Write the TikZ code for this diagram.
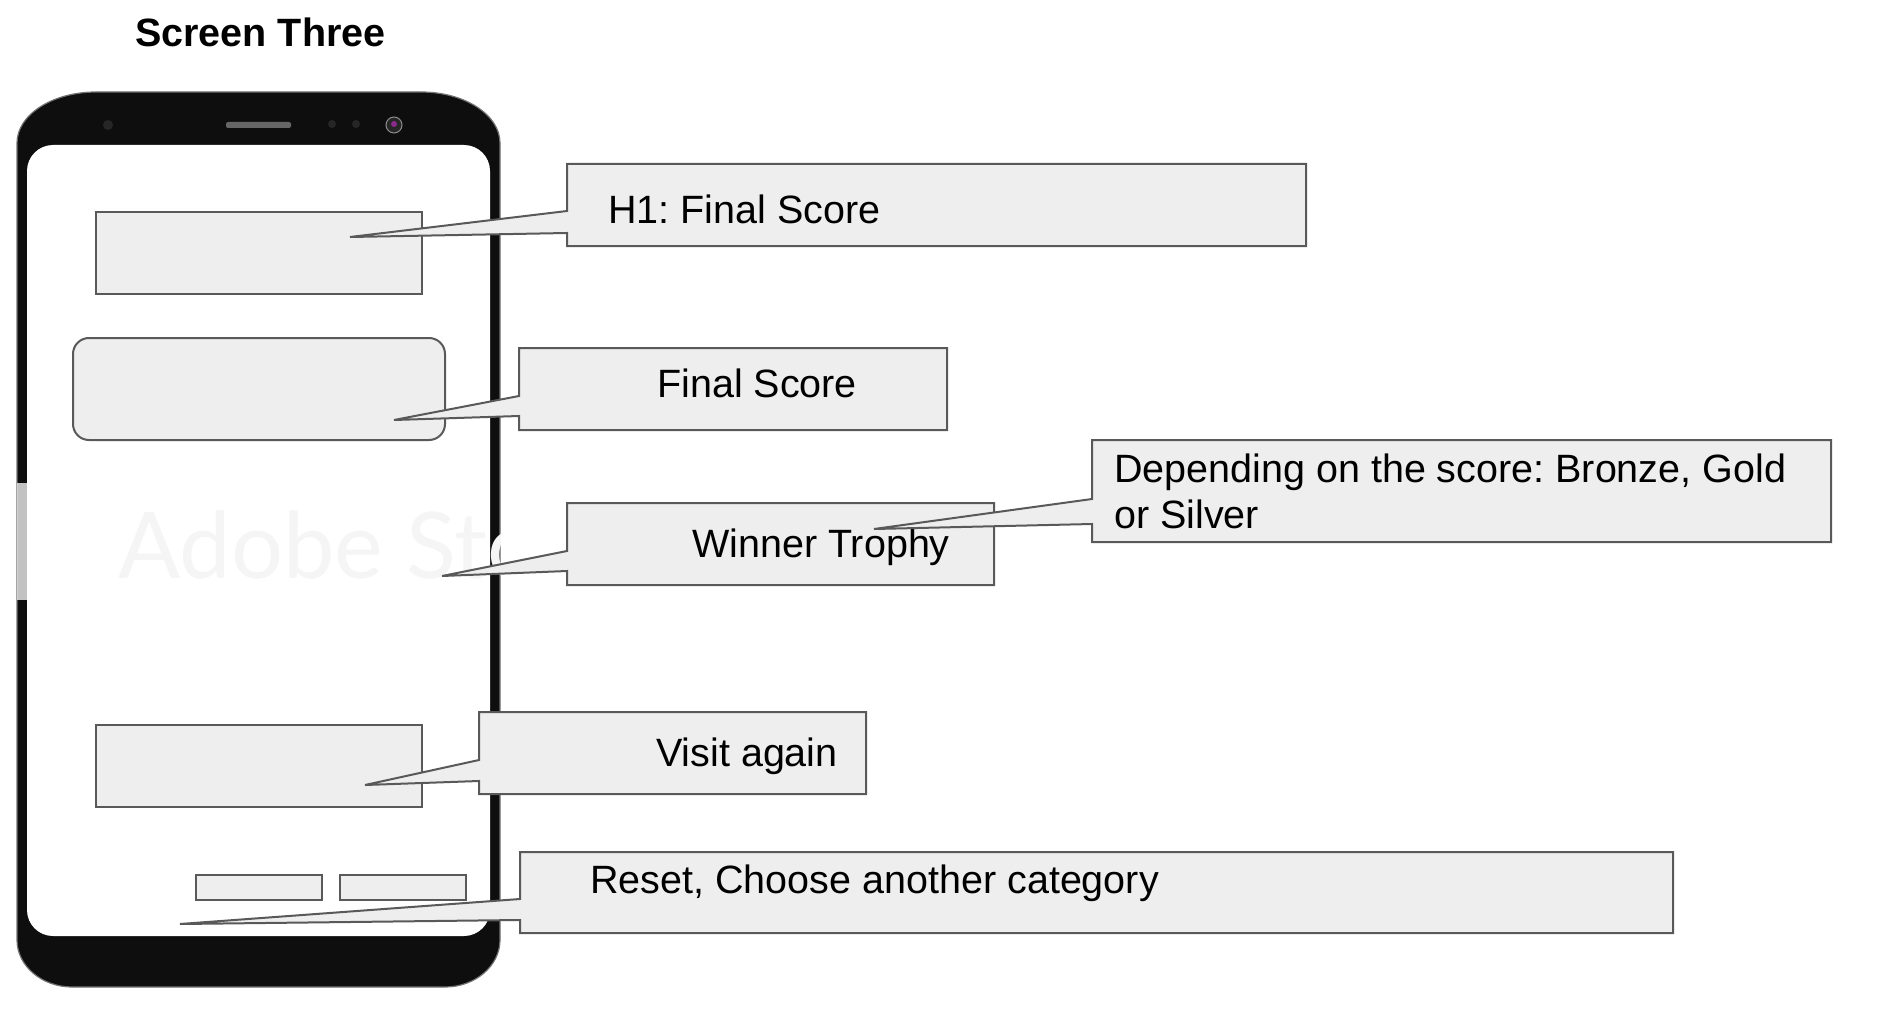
\documentclass[tikz,border=0pt]{standalone}
\usepackage{fontspec}
\setmainfont{Liberation Sans}
\newfontfamily\wmfont{Lato}
\definecolor{boxfill}{HTML}{EEEEEE}
\definecolor{boxline}{HTML}{595959}
\definecolor{phoneblack}{HTML}{0E0E0E}
\definecolor{sensor}{HTML}{262626}
\definecolor{lens}{HTML}{8A2A8A}
\tikzset{
  tbox/.style={draw=boxline, fill=boxfill, line width=2pt, inner sep=0pt, outer sep=0pt, anchor=north west},
  cframe/.style={inner sep=0pt, outer sep=0pt, anchor=north west},
  callout/.style={draw=boxline, fill=boxfill, line width=2pt},
  lbl/.style={anchor=base west, inner sep=0pt, font=\fontsize{39.5}{46}\selectfont},
}
\begin{document}
\frenchspacing
\begin{tikzpicture}[x=1pt,y=-1pt]
\useasboundingbox (0,0) rectangle (1896,1030);

% title
\node[anchor=base west, inner sep=0pt, font=\bfseries\fontsize{39.5}{40}\selectfont] (title) at (135,46.7) {Screen Three};

% phone body
\fill[phoneblack] (17,143) .. controls (17,115) and (52,92) .. (96,92) -- (421,92)
  .. controls (465,92) and (500,115) .. (500,143) -- (500,940)
  .. controls (500,966) and (475,987) .. (445,987) -- (72,987)
  .. controls (42,987) and (17,966) .. (17,940) -- cycle;
\draw[black!55, line width=1.2pt] (17,143) .. controls (17,115) and (52,92) .. (96,92) -- (421,92)
  .. controls (465,92) and (500,115) .. (500,143) -- (500,940)
  .. controls (500,966) and (475,987) .. (445,987) -- (72,987)
  .. controls (42,987) and (17,966) .. (17,940) -- cycle;
% screen
\fill[white, rounded corners=26pt] (27,145) rectangle (490,936);
% top bezel details
\fill[black!60, rounded corners=2pt] (226,122) rectangle (291,128);
\fill[sensor] (108,125) circle[radius=5pt];
\fill[sensor] (332,124) circle[radius=4pt];
\fill[sensor] (356,124) circle[radius=4pt];
\fill[sensor] (394,125) circle[radius=8pt];
\draw[black!45, line width=1pt] (394,125) circle[radius=8pt];
\fill[lens] (394,124) circle[radius=3pt];

% watermark
\fill[white, opacity=0.75] (17,483) rectangle (73,600);
\begin{scope}
\clip (17,400) rectangle (500,700);
\node[anchor=base west, inner sep=0pt, text=black!4, font=\wmfont\fontsize{92}{92}\selectfont] (wm) at (118,578) {Adobe Sto};
\end{scope}

% target elements in phone
\node[tbox, minimum width=326pt, minimum height=82pt] (r1) at (96,212) {};
\node[tbox, rounded corners=16pt, minimum width=372pt, minimum height=102pt] (r2) at (73,338) {};
\node[tbox, minimum width=326pt, minimum height=82pt] (r3) at (96,725) {};
\node[tbox, minimum width=126pt, minimum height=25pt] (b1) at (196,875) {};
\node[tbox, minimum width=126pt, minimum height=25pt] (b2) at (340,875) {};

% callout frames
\node[cframe, minimum width=739pt, minimum height=82pt] (c1) at (567,164) {};
\node[cframe, minimum width=428pt, minimum height=82pt] (c2) at (519,348) {};
\node[cframe, minimum width=427pt, minimum height=82pt] (c3) at (567,503) {};
\node[cframe, minimum width=739pt, minimum height=102pt] (c4) at (1092,440) {};
\node[cframe, minimum width=387pt, minimum height=82pt] (c5) at (479,712) {};
\node[cframe, minimum width=1153pt, minimum height=81pt] (c6) at (520,852) {};

% tips and attachment points
\coordinate (p1) at (350,237); \coordinate (a1) at (567,211); \coordinate (b1t) at (567,233);
\coordinate (p2) at (394,420); \coordinate (a2) at (519,396); \coordinate (b2t) at (519,416);
\coordinate (p3) at (442,576); \coordinate (a3) at (567,551); \coordinate (b3t) at (567,571);
\coordinate (p4) at (874,529); \coordinate (a4) at (1092,499); \coordinate (b4t) at (1092,524);
\coordinate (p5) at (365,785); \coordinate (a5) at (479,760); \coordinate (b5t) at (479,781);
\coordinate (p6) at (180,924); \coordinate (a6) at (520,899); \coordinate (b6t) at (520,920);

% callout 1
\draw[callout] (c1.north west) -- (c1.north east) -- (c1.south east) -- (c1.south west) -- (b1t) -- (p1) -- (a1) -- cycle;
\node[lbl] (l1) at (608,223) {H1: Final Score};
% callout 2
\draw[callout] (c2.north west) -- (c2.north east) -- (c2.south east) -- (c2.south west) -- (b2t) -- (p2) -- (a2) -- cycle;
\node[lbl] (l2) at (657,397) {Final Score};
% callout 3
\draw[callout] (c3.north west) -- (c3.north east) -- (c3.south east) -- (c3.south west) -- (b3t) -- (p3) -- (a3) -- cycle;
\node[lbl] (l3) at (692,557) {Winner Trophy};
% callout 4
\draw[callout] (c4.north west) -- (c4.north east) -- (c4.south east) -- (c4.south west) -- (b4t) -- (p4) -- (a4) -- cycle;
\node[lbl] (l4) at (1114,482) {Depending on the score: Bronze, Gold};
\node[lbl] (l4b) at (1114,528) {or Silver};
% callout 5
\draw[callout] (c5.north west) -- (c5.north east) -- (c5.south east) -- (c5.south west) -- (b5t) -- (p5) -- (a5) -- cycle;
\node[lbl] (l5) at (656,766) {Visit again};
% callout 6
\draw[callout] (c6.north west) -- (c6.north east) -- (c6.south east) -- (c6.south west) -- (b6t) -- (p6) -- (a6) -- cycle;
\node[lbl] (l6) at (590,893) {Reset, Choose another category};
\end{tikzpicture}
\end{document}
